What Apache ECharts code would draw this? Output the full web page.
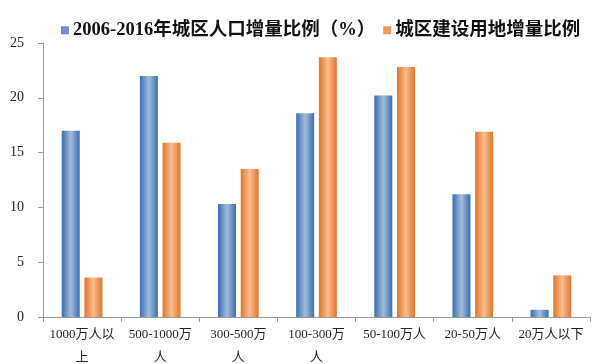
<!DOCTYPE html>
<html><head><meta charset="utf-8">
<script src="https://cdn.jsdelivr.net/npm/echarts@6/dist/echarts.min.js"></script>
<style>html,body{margin:0;padding:0;background:#fff}#c{width:600px;height:364px}</style>
</head><body><div id="c"></div>
<script>
var categories = ['1000万人以\n上','500-1000万\n人','300-500万\n人','100-300万\n人','50-100万人','20-50万人','20万人以下'];
var seriesNames = ['2006-2016年城区人口增量比例（%）','城区建设用地增量比例'];
var popGrowth = [17.0, 22.0, 10.3, 18.6, 20.2, 11.2, 0.65];
var landGrowth = [3.6, 15.9, 13.5, 23.7, 22.8, 16.9, 3.8];
var yTicks = [0, 5, 10, 15, 20, 25];

function grad(edge, mid){
  return new echarts.graphic.LinearGradient(0,0,1,0,[
    {offset:0,color:edge},{offset:0.5,color:mid},{offset:1,color:edge}]);
}
var chart = echarts.init(document.getElementById('c'));
var font = '"Liberation Serif","Noto Sans CJK SC",serif';
chart.setOption({
  animation:false,
  legend:{
    top:16, left:56, itemGap:8, itemWidth:8, itemHeight:8, icon:'rect',
    textStyle:{fontFamily:font, fontSize:18.5, fontWeight:'bold', color:'#111', padding:[0,0,0,-1]},
    data:[{name:seriesNames[0], itemStyle:{color:'#6f93c4'}},{name:seriesNames[1], itemStyle:{color:'#ee9a5e'}}]
  },
  grid:{left:43, right:10, top:43, bottom:47, outerBoundsMode:'none', containLabel:false},
  xAxis:{
    type:'category', data:categories,
    axisLine:{lineStyle:{color:'#9a9a9a'}},
    axisTick:{show:true, length:5, lineStyle:{color:'#9a9a9a'}},
    axisLabel:{fontFamily:font, fontSize:13, color:'#222', margin:6, lineHeight:23, interval:0}
  },
  yAxis:{
    type:'value', min:0, max:25, interval:5,
    axisLine:{show:true, lineStyle:{color:'#9a9a9a'}},
    axisTick:{show:true, length:5, lineStyle:{color:'#9a9a9a'}},
    splitLine:{show:false},
    axisLabel:{fontFamily:font, fontSize:14, color:'#222', margin:19,
      formatter:function(v){return yTicks.indexOf(v)>=0? String(v):'';}}
  },
  series:[
    {name:seriesNames[0], type:'bar', data:popGrowth, barWidth:18, barGap:'26%',
     itemStyle:{color:grad('#3a6db4','#a2bcd8')}},
    {name:seriesNames[1], type:'bar', data:landGrowth, barWidth:18,
     itemStyle:{color:grad('#de752b','#fcbd8e')}}
  ]
});
</script></body></html>
